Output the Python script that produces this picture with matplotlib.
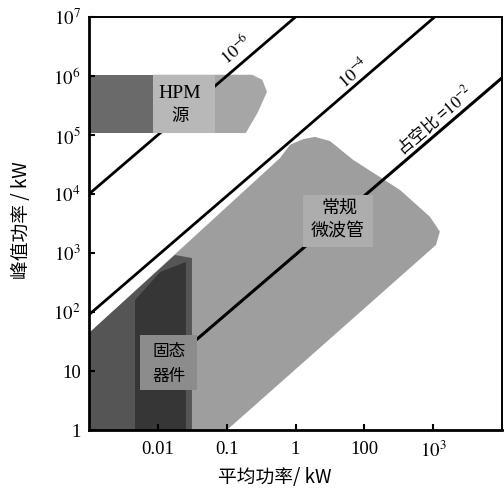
import math
import matplotlib
matplotlib.use("Agg")
import matplotlib.pyplot as plt

plt.rcParams['font.family'] = ['Liberation Serif', 'Noto Sans CJK SC']
plt.rcParams['mathtext.fontset'] = 'stix'

# ---- data ----
x_ticks = [0.01, 0.1, 1, 10, 100]
x_ticklabels = ["0.01", "0.1", "1", "100", r"$10^3$"]
y_ticks = [1, 10, 1e2, 1e3, 1e4, 1e5, 1e6, 1e7]
y_ticklabels = ["1", "10", r"$10^2$", r"$10^3$", r"$10^4$", r"$10^5$", r"$10^6$", r"$10^7$"]

# duty-ratio lines (avg power kW, peak power kW)
duty6_x = [1e-3, 1.0]
duty6_y = [1e4, 1e7]
duty4_x = [1e-3, 105]
duty4_y = [90, 1e7]
duty2_x = [0.03, 1000]
duty2_y = [28, 9.3e5]

# conventional microwave tubes region
tube_x = [0.001, 0.596, 0.83, 1.29, 1.92, 3.17, 6.85, 33, 90, 125, 110, 0.101, 0.001]
tube_y = [44, 4.07e4, 6.8e4, 8.5e4, 9.3e4, 7.9e4, 3.8e4, 1.17e4, 4.1e3, 2.3e3, 1.37e3, 1, 1]

# HPM sources region
hpm_dark_x = [0.001, 0.0085, 0.0085, 0.001]
hpm_dark_y = [1.05e6, 1.05e6, 1.08e5, 1.08e5]
hpm_light_x = [0.0085, 0.235, 0.33, 0.385, 0.285, 0.19, 0.0085]
hpm_light_y = [1.05e6, 1.05e6, 8.6e5, 5.4e5, 2.45e5, 1.08e5, 1.08e5]

# solid-state devices region
solid_x = [0.001, 0.0177, 0.0313, 0.0313, 0.001]
solid_y = [44, 925, 822, 1, 1]
solid_core_x = [0.00466, 0.0108, 0.0256, 0.0256, 0.00466]
solid_core_y = [159, 476, 704, 1, 1]

# label boxes
hpm_box_x = [0.0085, 0.068, 0.068, 0.0085]
hpm_box_y = [1.05e6, 1.05e6, 1.08e5, 1.08e5]
solid_box_x = [0.0055, 0.037, 0.037, 0.0055]
solid_box_y = [40.7, 40.7, 4.8, 4.8]
tube_box_x = [1.29, 13.4, 13.4, 1.29]
tube_box_y = [9.6e3, 9.6e3, 1.26e3, 1.26e3]

fig = plt.figure(figsize=(5.04, 4.90), dpi=100)
ax = fig.add_axes([89/504, 1 - 430/490, 413/504, 413/490])
ax.set_xscale('log')
ax.set_yscale('log')
ax.set_xlim(1e-3, 1e3)
ax.set_ylim(1, 1e7)

# regions
ax.fill(tube_x, tube_y, color='#9e9e9e', lw=0, zorder=1)
ax.fill(solid_x, solid_y, color='#555555', lw=0, zorder=1.1)
ax.fill(solid_core_x, solid_core_y, color='#363636', lw=0, zorder=1.2)
ax.fill(hpm_dark_x, hpm_dark_y, color='#6a6a6a', lw=0, zorder=1)
ax.fill(hpm_light_x, hpm_light_y, color='#a6a6a6', lw=0, zorder=1)

# duty lines
ax.plot(duty6_x, duty6_y, color='black', lw=2.0, zorder=2, solid_capstyle='butt')
ax.plot(duty4_x, duty4_y, color='black', lw=2.0, zorder=2, solid_capstyle='butt')
ax.plot(duty2_x, duty2_y, color='black', lw=2.2, zorder=2, solid_capstyle='butt')

# label boxes
ax.fill(hpm_box_x, hpm_box_y, color='#b8b8b8', lw=0, zorder=3)
ax.fill(solid_box_x, solid_box_y, color='#8c8c8c', lw=0, zorder=3)
ax.fill(tube_box_x, tube_box_y, color='#adadad', lw=0, zorder=3)

# region labels
ax.text(0.021, 5.1e5, "HPM", fontsize=14, ha='center', va='center', zorder=4)
ax.text(0.021, 2.1e5, "源", fontsize=12.5, ha='center', va='center', zorder=4,
        family=['Noto Sans CJK SC'])
ax.text(0.0145, 21, "固态", fontsize=12, ha='center', va='center', zorder=4,
        family=['Noto Sans CJK SC'])
ax.text(0.0145, 8.2, "器件", fontsize=12, ha='center', va='center', zorder=4,
        family=['Noto Sans CJK SC'])
ax.text(4.4, 5.8e3, "常规", fontsize=13, ha='center', va='center', zorder=4,
        family=['Noto Sans CJK SC'])
ax.text(4.15, 2.3e3, "微波管", fontsize=13, ha='center', va='center', zorder=4,
        family=['Noto Sans CJK SC'])

# rotation angle of duty lines in display space
p1 = ax.transData.transform((1e-3, 1))
p2 = ax.transData.transform((1e-2, 10))
ang = math.degrees(math.atan2(p2[1] - p1[1], p2[0] - p1[0]))

ax.text(0.141, 2.75e6, r"$10^{-6}$", fontsize=13, rotation=ang,
        ha='center', va='center', rotation_mode='anchor', zorder=4)
ax.text(6.9, 1.12e6, r"$10^{-4}$", fontsize=13, rotation=ang,
        ha='center', va='center', rotation_mode='anchor', zorder=4)
ax.text(106, 1.8e5, r"占空比 =$10^{-2}$", fontsize=12, rotation=ang,
        ha='center', va='center', rotation_mode='anchor', zorder=4,
        family=['Noto Sans CJK SC', 'Liberation Serif'])

# axes styling
ax.set_xticks(x_ticks)
ax.set_xticklabels(x_ticklabels)
ax.set_yticks(y_ticks)
ax.set_yticklabels(y_ticklabels)
ax.minorticks_off()
ax.tick_params(axis='both', which='major', direction='in', length=4, width=1.5,
               labelsize=13.5, colors='black')
ax.tick_params(axis='x', pad=8)
ax.tick_params(axis='y', pad=6)

for side in ['left', 'bottom']:
    ax.spines[side].set_linewidth(2.0)
for side in ['top', 'right']:
    ax.spines[side].set_linewidth(1.4)
for s in ax.spines.values():
    s.set_zorder(5)

ax.set_xlabel("平均功率/ kW", fontsize=13.5, family=['Noto Sans CJK SC'])
ax.xaxis.set_label_coords(0.45, -0.09)
ax.set_ylabel("峰值功率 / kW", fontsize=13.5, family=['Noto Sans CJK SC'])
ax.yaxis.set_label_coords(-0.138, 0.508)

fig.savefig("out.png", dpi=100)
